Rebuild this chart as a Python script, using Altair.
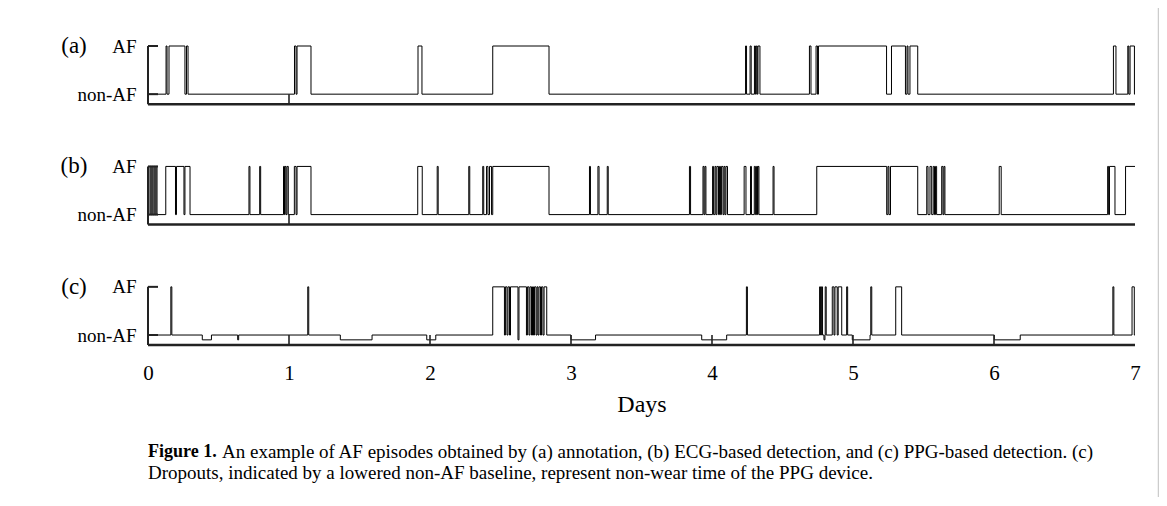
import altair as alt
import pandas as pd

# ---------------- data (days) ----------------
panels = ["(a)", "(b)", "(c)"]
panel_base = [5.0, 2.5, 0.0]          # vertical offset of each panel's non-AF level

# (a) annotation: AF episodes (start, end) in days
ann_af = [(0.128, 0.135), (0.149, 0.262), (0.273, 0.284), (1.039, 1.050), (1.057, 1.156),
          (1.915, 1.943), (2.445, 2.844), (4.238, 4.245), (4.270, 4.278), (4.301, 4.308),
          (4.314, 4.321), (4.326, 4.340), (4.691, 4.702), (4.738, 4.748), (4.755, 5.238),
          (5.273, 5.372), (5.383, 5.390), (5.404, 5.459), (6.847, 6.865), (6.949, 6.956),
          (6.965, 6.996)]

# (b) ECG-based detection
ecg_af = [(0.014, 0.021), (0.028, 0.035), (0.043, 0.050), (0.057, 0.064), (0.126, 0.195),
          (0.202, 0.255), (0.262, 0.298), (0.716, 0.723), (0.792, 0.799), (0.961, 0.968),
          (0.972, 0.979), (0.986, 0.995), (1.038, 1.050), (1.057, 1.156), (1.913, 1.945),
          (2.051, 2.058), (2.275, 2.282), (2.374, 2.381), (2.401, 2.411), (2.422, 2.436),
          (2.445, 2.844), (3.131, 3.138), (3.191, 3.199), (3.257, 3.264), (3.840, 3.848),
          (3.936, 3.943), (3.950, 3.957), (4.004, 4.011), (4.021, 4.028), (4.035, 4.046),
          (4.053, 4.060), (4.067, 4.078), (4.085, 4.092), (4.099, 4.110), (4.228, 4.241),
          (4.273, 4.280), (4.300, 4.308), (4.316, 4.323), (4.326, 4.333), (4.433, 4.440),
          (4.743, 5.239), (5.248, 5.255), (5.266, 5.459), (5.523, 5.532), (5.546, 5.558),
          (5.569, 5.578), (5.585, 5.593), (5.629, 5.638), (5.645, 5.652), (6.037, 6.051),
          (6.806, 6.813), (6.819, 6.858), (6.933, 7.0)]

# (c) PPG-based detection
ppg_af = [(0.162, 0.169), (1.133, 1.140), (2.445, 2.828), (4.244, 4.251), (4.763, 4.770),
          (4.776, 4.784), (4.803, 4.810), (4.853, 4.920), (4.955, 4.962), (5.126, 5.133),
          (5.303, 5.345), (6.843, 6.850), (6.979, 6.995)]
ppg_dips = [(2.528, 2.535), (2.546, 2.553), (2.564, 2.571), (2.684, 2.691), (2.702, 2.709),
            (2.720, 2.727), (2.734, 2.741), (2.752, 2.759), (2.766, 2.773), (2.784, 2.791),
            (2.801, 2.809), (4.865, 4.872), (4.888, 4.895)]
ppg_dropouts = [(0.385, 0.450), (0.636, 0.643), (1.364, 1.589), (1.977, 2.041), (2.624, 2.631),
                (3.000, 3.174), (3.927, 4.104), (4.794, 4.801), (4.995, 5.121), (6.002, 6.186)]

dropout_level = -0.1
axis_offset = -0.207
day_ticks = [[1], [1], [1, 2, 3, 4, 5, 6]]
x_labels = [0, 1, 2, 3, 4, 5, 6, 7]

caption_bold = "Figure 1."
caption_line1 = ("An example of AF episodes obtained by (a) annotation, (b) ECG-based detection, "
                 "and (c) PPG-based detection. (c)")
caption_line2 = "Dropouts, indicated by a lowered non-AF baseline, represent non-wear time of the PPG device."

FONT = "Liberation Serif"


def build(af, dips=(), drops=()):
    pts = sorted(set([0.0, 7.0] + [t for iv in list(af) + list(dips) + list(drops) for t in iv]))

    def inside(t, ivs):
        return any(a <= t <= b for a, b in ivs)

    out = []
    for t0, t1 in zip(pts[:-1], pts[1:]):
        m = (t0 + t1) / 2
        if inside(m, drops):
            lv = dropout_level
        elif inside(m, dips):
            lv = 0.0
        elif inside(m, af):
            lv = 1.0
        else:
            lv = 0.0
        out += [(t0, lv), (t1, lv)]
    return out


rows = []
series = [build(ann_af), build(ecg_af), build(ppg_af, ppg_dips, ppg_dropouts)]
for p, base, s in zip(panels, panel_base, series):
    for i, (t, lv) in enumerate(s):
        rows.append({"panel": p, "ord": i, "t": t, "y": base + lv})
line_df = pd.DataFrame(rows)

axis_df = pd.DataFrame({"panel": panels,
                        "yb": [b + axis_offset for b in panel_base],
                        "ytop": [b + 1 for b in panel_base],
                        "x0": [0] * 3, "x1": [7] * 3})
ytick_df = pd.DataFrame({"y": [v for b in panel_base for v in (b, b + 1)]})
xtick_df = pd.DataFrame([{"d": d, "y0": b + axis_offset, "y1": b}
                         for b, ds in zip(panel_base, day_ticks) for d in ds])
plab_df = pd.DataFrame({"lab": panels, "y": [b + 1 for b in panel_base]})

xs = alt.Scale(domain=[0, 7], nice=False, zero=False)
ys = alt.Scale(domain=[axis_offset, 6], nice=False, zero=False)

lines = alt.Chart(line_df).mark_line(color="black", strokeWidth=1).encode(
    x=alt.X("t:Q", scale=xs, axis=alt.Axis(
        values=x_labels, domain=False, ticks=False, tickSize=0, grid=False, labelFlush=False,
        labelFont=FONT, labelFontSize=21, labelColor="black", labelPadding=17,
        title="Days", titleFont=FONT, titleFontSize=24, titleFontWeight="normal",
        titleColor="black", titlePadding=9)),
    y=alt.Y("y:Q", scale=ys, axis=alt.Axis(
        values=[0, 1, 2.5, 3.5, 5, 6], domain=False, ticks=False, tickSize=0, grid=False,
        labelExpr="(datum.value == 1 || datum.value == 3.5 || datum.value == 6) ? 'AF' : 'non-AF'",
        labelFont=FONT, labelFontSize=19, labelColor="black", labelPadding=12,
        labelOverlap=False, title=None)),
    detail="panel:N",
    order="ord:Q",
)

bottom_axes = alt.Chart(axis_df).mark_rule(color="#222222", strokeWidth=2.5).encode(
    x=alt.X("x0:Q", scale=xs, axis=None), x2="x1:Q",
    y=alt.Y("yb:Q", scale=ys, axis=None))
left_axes = alt.Chart(axis_df).mark_rule(color="#222222", strokeWidth=2).encode(
    x=alt.value(0), y=alt.Y("ytop:Q", scale=ys, axis=None), y2="yb:Q")
yticks = alt.Chart(ytick_df).mark_rule(color="#222222", strokeWidth=2).encode(
    x=alt.value(0), x2=alt.value(10), y=alt.Y("y:Q", scale=ys, axis=None))
xticks = alt.Chart(xtick_df).mark_rule(color="#222222", strokeWidth=1.6).encode(
    x=alt.X("d:Q", scale=xs, axis=None), y=alt.Y("y0:Q", scale=ys, axis=None), y2="y1:Q")
plabels = alt.Chart(plab_df).mark_text(font=FONT, fontSize=23, align="center",
                                        baseline="middle", color="black").encode(
    x=alt.value(-74), y=alt.Y("y:Q", scale=ys, axis=None), text="lab:N")

cap_bold = alt.Chart(pd.DataFrame({"s": [caption_bold]})).mark_text(
    font=FONT, fontSize=18, fontWeight="bold", align="left", baseline="middle", color="black"
).encode(x=alt.value(0), y=alt.value(406), text="s:N")
cap1 = alt.Chart(pd.DataFrame({"s": [caption_line1]})).mark_text(
    font=FONT, fontSize=19, align="left", baseline="middle", color="black"
).encode(x=alt.value(74), y=alt.value(406), text="s:N")
cap2 = alt.Chart(pd.DataFrame({"s": [caption_line2]})).mark_text(
    font=FONT, fontSize=19, align="left", baseline="middle", color="black"
).encode(x=alt.value(0), y=alt.value(427), text="s:N")

frame_v = alt.Chart(pd.DataFrame({"k": [0]})).mark_rule(color="#cccccc", strokeWidth=2.5).encode(
    x=alt.value(-143), y=alt.value(-46), y2=alt.value(460))
frame_r = alt.Chart(pd.DataFrame({"k": [0]})).mark_rule(color="#cccccc", strokeWidth=2.5).encode(
    x=alt.value(1011), y=alt.value(-46), y2=alt.value(460))
frame_t = alt.Chart(pd.DataFrame({"k": [0]})).mark_rule(color="#cccccc", strokeWidth=2.5).encode(
    x=alt.value(-143), x2=alt.value(1011), y=alt.value(-45))

chart = alt.layer(
    frame_v, frame_r, frame_t,
    lines, bottom_axes, left_axes, yticks, xticks, plabels, cap_bold, cap1, cap2
).resolve_axis(x="independent", y="independent").properties(
    width=987, height=299,
    autosize=alt.AutoSizeParams(type="none"),
    padding={"left": 140, "top": 38, "right": 24, "bottom": 152},
    background="white",
).configure_view(stroke=None)

chart.save("out.html", embed_options={"renderer": "svg", "actions": False})
